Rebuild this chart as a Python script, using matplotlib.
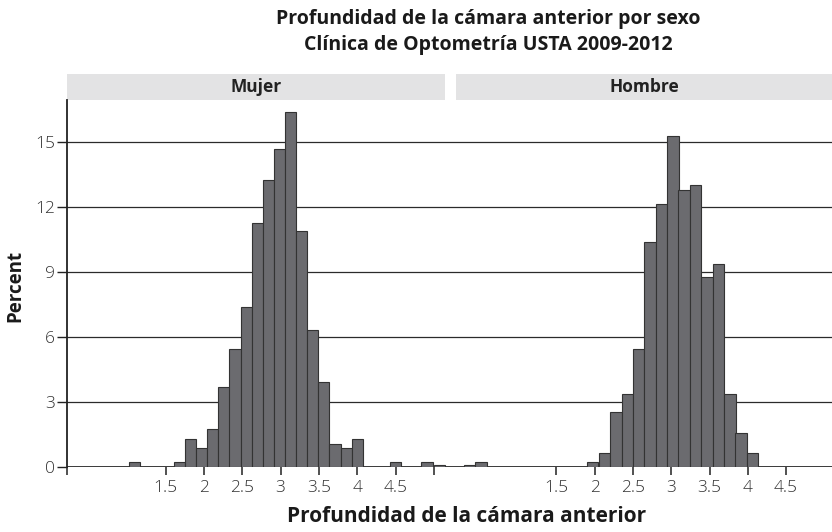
import numpy as np
import matplotlib.pyplot as plt
from matplotlib.patches import Rectangle

plt.rcParams['font.family'] = ['Open Sans', 'DejaVu Sans']

title = "Profundidad de la cámara anterior por sexo\nClínica de Optometría USTA 2009-2012"
xlabel = "Profundidad de la cámara anterior"
ylabel = "Percent"
panels = ["Mujer", "Hombre"]

# bin centres (mm) and percent
mujer_x = [1.09, 1.68, 1.825, 1.97, 2.115, 2.26, 2.405, 2.55, 2.695, 2.84, 2.985,
           3.13, 3.275, 3.42, 3.565, 3.71, 3.855, 4.0, 4.5, 4.91, 5.07]
mujer_pct = [0.22, 0.22, 1.29, 0.86, 1.75, 3.69, 5.46, 7.37, 11.28, 13.24, 14.67,
             16.40, 10.91, 6.31, 3.92, 1.08, 0.86, 1.29, 0.22, 0.22, 0.10]

hombre_x = [0.364, 0.52, 1.974, 2.126, 2.278, 2.427, 2.573, 2.722, 2.871, 3.021,
            3.170, 3.320, 3.467, 3.615, 3.765, 3.911, 4.061]
hombre_pct = [0.10, 0.22, 0.25, 0.63, 2.52, 3.38, 5.46, 10.38, 12.12, 15.27,
              12.78, 13.01, 8.75, 9.38, 3.37, 1.57, 0.63]

xticks = [1.5, 2, 2.5, 3, 3.5, 4, 4.5]
yticks = [0, 3, 6, 9, 12, 15]

# layout of the two panels on one shared x scale
x0 = 0.2115          # left edge of the plot area
offset = 5.099       # shift of the "Hombre" panel
w_m, w_h = 0.146, 0.150
strip_l = (x0, 5.146)
strip_r = (5.29, 10.2)

fig = plt.figure(figsize=(8.32, 5.32), dpi=100)
ax = fig.add_axes([67/832, 1 - 467/532, 765/832, 367/532])

ax.set_xlim(x0, 10.198)
ax.set_ylim(0, 16.94)

for y in yticks:
    ax.axhline(y, color='#2b2b2b', lw=0.9 if y else 1.3, zorder=1)

bar_kw = dict(color='#6b6b6f', edgecolor='#333333', linewidth=0.8, zorder=2)
ax.bar(mujer_x, mujer_pct, width=w_m, **bar_kw)
ax.bar(np.array(hombre_x) + offset, hombre_pct, width=w_h, **bar_kw)

# ticks
tpos = [x0] + xticks + [5.0] + [t + offset for t in xticks]
tlab = [''] + ['%g' % t for t in xticks] + [''] + ['%g' % t for t in xticks]
ax.set_xticks(tpos)
ax.set_xticklabels(tlab)
ax.set_yticks(yticks)
ax.tick_params(axis='x', length=6, width=1.1, color='#222222', pad=3,
               labelsize=12.5, labelcolor='#333333')
ax.tick_params(axis='y', length=7, width=1.0, color='#222222', pad=1.5,
               labelsize=12.5, labelcolor='#333333')
for lab in ax.get_xticklabels() + ax.get_yticklabels():
    lab.set_fontweight('light')

for s in ['top', 'right', 'bottom']:
    ax.spines[s].set_visible(False)
ax.spines['left'].set_linewidth(1.3)
ax.spines['left'].set_color('#222222')

# panel header strips
trans = ax.get_xaxis_transform()
for (a, b), name in zip([strip_l, strip_r], panels):
    ax.add_patch(Rectangle((a, 1.0), b - a, 26/367, transform=trans,
                           facecolor='#e3e3e4', edgecolor='none', clip_on=False))
    ax.text((a + b) / 2, 1.0 + 13/367, name, transform=trans, ha='center',
            va='center', fontsize=12.5, fontweight='bold', color='#222222')

fig.text(488/832, 1 - 32/532, title, ha='center', va='center', fontsize=14,
         fontweight='bold', color='#1a1a1a', linespacing=1.35)
fig.text(15/832, 1 - 286/532, ylabel, rotation=90, ha='center', va='center',
         fontsize=13.5, fontweight='bold', color='#1a1a1a')
fig.text(467/832, 1 - 516/532, xlabel, ha='center', va='center',
         fontsize=15, fontweight='bold', color='#1a1a1a')

fig.savefig('out.png', dpi=100)
